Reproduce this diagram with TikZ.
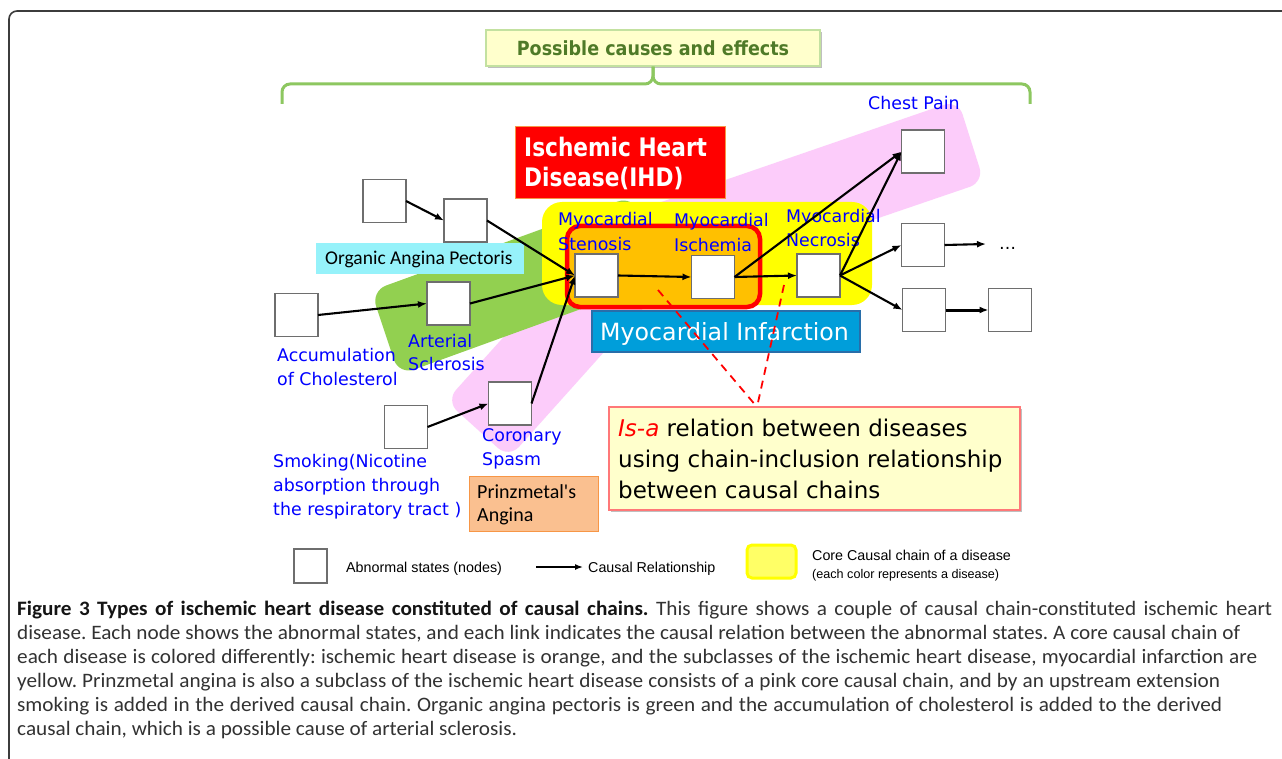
\documentclass[tikz,border=0pt]{standalone}
\usepackage{graphicx}
\usepackage{fontspec}
\setmainfont{DejaVu Sans}
\newfontfamily\fDV{DejaVu Sans}
\newfontfamily\fCarl{Carlito}
\newfontfamily\fCarlW[FakeStretch=1.035]{Carlito}
\newfontfamily\fLib{Liberation Sans}
\usetikzlibrary{arrows.meta,shadows}
\definecolor{pinkc}{RGB}{252,204,250}
\definecolor{greenc}{RGB}{146,208,80}
\definecolor{yellowc}{RGB}{255,255,0}
\definecolor{orangec}{RGB}{255,192,0}
\definecolor{redc}{RGB}{255,0,0}
\definecolor{ihdb}{RGB}{247,150,70}
\definecolor{mic}{RGB}{0,158,218}
\definecolor{micb}{RGB}{40,110,170}
\definecolor{cyanc}{RGB}{150,242,250}
\definecolor{prinzf}{RGB}{250,192,144}
\definecolor{prinzb}{RGB}{247,150,70}
\definecolor{lyellow}{RGB}{255,255,204}
\definecolor{isab}{RGB}{255,120,120}
\definecolor{titleb}{RGB}{195,225,160}
\definecolor{titlet}{RGB}{79,122,40}
\definecolor{brk}{RGB}{141,199,96}
\definecolor{nodeb}{RGB}{110,110,110}
\definecolor{labelblue}{RGB}{0,0,255}
\definecolor{capreg}{RGB}{50,50,50}
\definecolor{capbold}{RGB}{20,20,20}
\definecolor{framec}{RGB}{60,60,60}
\definecolor{lgyel}{RGB}{255,255,102}
\newcommand\fBlue{\fDV\fontsize{17.4}{24}\selectfont}
\newcommand\fCap{\fCarlW\fontsize{20.5}{24}\selectfont}
\newcommand\fIsa{\fDV\fontsize{23}{31}\selectfont}
\newcommand\fBoxc{\fCarl\fontsize{19.5}{24}\selectfont}
\newcommand\fLeg{\fLib\fontsize{14.3}{17}\selectfont}
\newcommand\capline[2]{\makebox[#1][s]{#2}}
\frenchspacing
\begin{document}
\begin{tikzpicture}[x=1pt,y=-1pt,
  state/.style={draw=nodeb, fill=white, line width=1.2pt, minimum width=43pt, minimum height=43pt, inner sep=0pt, outer sep=0pt},
  arr/.style={-{Latex[length=9pt,width=7pt]}, line width=2.1pt, black},
  bl/.style={anchor=base west, inner sep=0pt, text=labelblue, font=\fBlue},
  txt/.style={anchor=base west, inner sep=0pt},
  capl/.style={anchor=base west, inner sep=0pt, text=capreg, font=\fCap},
  leg/.style={anchor=base west, inner sep=0pt, text=black, font=\fLeg},
  dsh/.style={redc, line width=1.8pt, dash pattern=on 8pt off 6pt},
  shad/.style={drop shadow={shadow xshift=2pt, shadow yshift=-2pt, opacity=0.25, fill=black}}
]
\useasboundingbox (0,0) rectangle (1282,759);
\fill[white] (0,0) rectangle (1282,759);
% frame
\draw[framec, line width=1.6pt, rounded corners=8pt] (9,790) -- (9,11) -- (1300,11);

% core chain bands
\fill[pinkc, rounded corners=15pt] (446,401) -- (509,458) -- (656,294) -- (984,182) -- (958,100) -- (609,220) -- cycle;
\fill[greenc, rounded corners=16pt] (371,291) -- (399,375) -- (661,280) -- (633,196) -- cycle;
\fill[yellowc, rounded corners=20pt] (542,202) rectangle (872,305);
\draw[redc, fill=orangec, line width=4.5pt, rounded corners=13pt] (567,226) rectangle (760,307);

% title and bracket
\node[draw=titleb, fill=lyellow, line width=1.5pt, minimum width=334pt, minimum height=36pt, inner sep=0pt, text=titlet, font=\fDV\bfseries\fontsize{19.5}{24}\selectfont, shad] (title) at (653,48) {\scalebox{0.9}[1]{Possible causes and effects}};
\draw[brk, line width=3pt, rounded corners=8pt] (title.south) -- (653,84) -- (282,84) -- (282,104);
\draw[brk, line width=3pt, rounded corners=8pt] (title.south) -- (653,84) -- (1030,84) -- (1030,104);

% IHD box
\node[draw=ihdb, fill=redc, line width=1pt, minimum width=210pt, minimum height=72pt, inner sep=0pt] (ihd) at (620,163) {};
\node[txt, text=white, font=\fDV\bfseries\fontsize{25.5}{30}\selectfont] (ihd1) at (524,157) {\scalebox{0.85}[1]{Ischemic Heart}};
\node[txt, text=white, font=\fDV\bfseries\fontsize{25.5}{30}\selectfont] (ihd2) at (524,187) {\scalebox{0.85}[1]{Disease(IHD)}};

% Organic angina box
\node[fill=cyanc, minimum width=208pt, minimum height=31pt, inner sep=0pt] (org) at (420,258.5) {};
\node[txt, font=\fBoxc] (orgt) at (325,265) {Organic Angina Pectoris};

% Myocardial infarction box
\node[draw=micb, fill=mic, line width=1.5pt, minimum width=268pt, minimum height=41pt, inner sep=0pt] (mi) at (726,331.5) {};
\node[txt, text=white, font=\fDV\fontsize{23.7}{28}\selectfont] (mit) at (600,340) {Myocardial Infarction};

% Prinzmetal box
\node[draw=prinzb, fill=prinzf, line width=1pt, minimum width=129pt, minimum height=55pt, inner sep=0pt] (prz) at (533.5,503.5) {};
\node[txt, font=\fCarl\fontsize{20}{24}\selectfont] (prz1) at (477,498) {Prinzmetal's};
\node[txt, font=\fCarl\fontsize{20}{24}\selectfont] (prz2) at (477,521.5) {Angina};

% states
\node[state] (tl1) at (384.5,201) {};
\node[state] (tl2) at (465.5,220.5) {};
\node[state] (art) at (448.5,303.5) {};
\node[state] (acc) at (296.5,315) {};
\node[state] (cor) at (510,403.5) {};
\node[state] (smk) at (406,427) {};
\node[state] (sten) at (596.5,275.5) {};
\node[state] (isch) at (713,277) {};
\node[state] (necr) at (818.5,275.5) {};
\node[state] (chest) at (923,151.5) {};
\node[state] (mid) at (923,245) {};
\node[state] (br) at (924,310) {};
\node[state] (fr) at (1010,310) {};

% blue labels
\node[bl] (lsten1) at (558,226) {Myocardial};
\node[bl] (lsten2) at (558,250.5) {Stenosis};
\node[bl] (lisch1) at (674,226.7) {Myocardial};
\node[bl] (lisch2) at (674,251.5) {Ischemia};
\node[bl] (lnecr1) at (786,222.7) {Myocardial};
\node[bl] (lnecr2) at (786,246.7) {Necrosis};
\node[bl] (lchest) at (868,110) {Chest Pain};
\node[bl] (lart1) at (408,347) {Arterial};
\node[bl] (lart2) at (408,370.7) {Sclerosis};
\node[bl] (lacc1) at (277,361.7) {Accumulation};
\node[bl] (lacc2) at (277,385) {of Cholesterol};
\node[bl] (lcor1) at (482,441.7) {Coronary};
\node[bl] (lcor2) at (482,465) {Spasm};
\node[bl] (lsmk1) at (273,467) {Smoking(Nicotine};
\node[bl] (lsmk2) at (273,491) {absorption through};
\node[bl] (lsmk3) at (273,515) {the respiratory tract )};

% causal arrows
\coordinate (dotsarr) at (986,244);
\node[txt, font=\fDV\fontsize{17}{20}\selectfont] (dots) at (999,250) {…};
\draw[arr] (tl1.east) -- (tl2.west);
\draw[arr] (tl2.east) -- (sten.west);
\draw[arr] (acc.east) -- (art.west);
\draw[arr] (art.east) -- (sten.west);
\draw[arr] (smk.east) -- (cor.west);
\draw[arr] (cor.east) -- (sten.west);
\draw[arr] (sten.east) -- (isch.west);
\draw[arr] (isch.east) -- (necr.west);
\draw[arr] (isch.east) -- (chest.west);
\draw[arr] (necr.east) -- (chest.west);
\draw[arr] (necr.east) -- (mid.west);
\draw[arr] (necr.east) -- (br.west);
\draw[arr] (mid.east) -- (dotsarr);
\draw[arr, line width=3pt] (br.east) -- (fr.west);

% Is-a box
\node[draw=isab, fill=lyellow, line width=1.5pt, minimum width=411pt, minimum height=103pt, inner sep=0pt, shad] (isa) at (814.5,458.5) {};
\node[txt, font=\fIsa] (isa1) at (618,436) {\textcolor{redc}{\itshape Is-a} relation between diseases};
\node[txt, font=\fIsa] (isa2) at (618,467) {using chain-inclusion relationship};
\node[txt, font=\fIsa] (isa3) at (618,498) {between causal chains};
\coordinate (isatop) at (757,407);
\coordinate (dash1) at (658,290);
\coordinate (dash2) at (784,285);
\draw[dsh] (dash1) -- (isatop);
\draw[dsh] (dash2) -- (isatop);

% legend
\node[draw=nodeb, fill=white, line width=1.2pt, minimum width=33pt, minimum height=34pt, inner sep=0pt] (lgsq) at (310.5,566) {};
\node[leg] (lgt1) at (346,572) {Abnormal states (nodes)};
\coordinate (lga1) at (536,567);
\coordinate (lga2) at (583,567);
\draw[-{Latex[length=8pt,width=6pt]}, line width=1.5pt] (lga1) -- (lga2);
\node[leg] (lgt2) at (588,572) {Causal Relationship};
\node[draw=yellowc, fill=lgyel, line width=3pt, rounded corners=5pt, minimum width=49pt, minimum height=33pt, inner sep=0pt] (lgy) at (771.5,561.5) {};
\node[leg] (lgt3) at (812,560) {Core Causal chain of a disease};
\node[leg, font=\fLib\fontsize{12.6}{15}\selectfont] (lgt4) at (812,578) {(each color represents a disease)};

% caption
\node[capl] (cap1) at (17,615) {\capline{1255pt}{\textcolor{capbold}{\bfseries Figure 3 Types of ischemic heart disease constituted of causal chains.} This figure shows a couple of causal chain-constituted ischemic heart}};
\node[capl] (cap2) at (17,639) {\capline{1223pt}{disease. Each node shows the abnormal states, and each link indicates the causal relation between the abnormal states. A core causal chain of}};
\node[capl] (cap3) at (17,663) {\capline{1240pt}{each disease is colored differently: ischemic heart disease is orange, and the subclasses of the ischemic heart disease, myocardial infarction are}};
\node[capl] (cap4) at (17,687) {\capline{1203pt}{yellow. Prinzmetal angina is also a subclass of the ischemic heart disease consists of a pink core causal chain, and by an upstream extension}};
\node[capl] (cap5) at (17,711) {\capline{1205pt}{smoking is added in the derived causal chain. Organic angina pectoris is green and the accumulation of cholesterol is added to the derived}};
\node[capl] (cap6) at (17,735) {causal chain, which is a possible cause of arterial sclerosis.};
\end{tikzpicture}
\end{document}
